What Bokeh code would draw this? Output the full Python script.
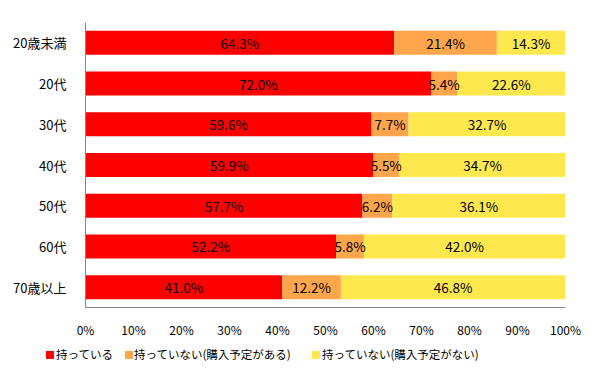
from bokeh.plotting import figure
from bokeh.layouts import column
from bokeh.models import ColumnDataSource, FactorRange, Range1d, PrintfTickFormatter, FixedTicker, Div
from bokeh.core.properties import value
from bokeh.embed import file_html
from bokeh.resources import INLINE

categories = ["20歳未満", "20代", "30代", "40代", "50代", "60代", "70歳以上"]
own = [64.3, 72.0, 59.6, 59.9, 57.7, 52.2, 41.0]
plan = [21.4, 5.4, 7.7, 5.5, 6.2, 5.8, 12.2]
noplan = [14.3, 22.6, 32.7, 34.7, 36.1, 42.0, 46.8]
series_names = ["持っている", "持っていない(購入予定がある)", "持っていない(購入予定がない)"]
colors = ["#FF0000", "#FFA64D", "#FFE84D"]
x_ticks = [0, 10, 20, 30, 40, 50, 60, 70, 80, 90, 100]

FONT = "Noto Sans CJK JP"

src = ColumnDataSource(dict(cat=categories, own=own, plan=plan, noplan=noplan))

p = figure(width=598, height=340, output_backend="svg", toolbar_location=None,
           y_range=FactorRange(factors=categories[::-1]), x_range=Range1d(0, 100),
           min_border_left=85, min_border_right=33, min_border_top=22, min_border_bottom=32)

rs = p.hbar_stack(["own", "plan", "noplan"], y="cat", height=0.59, color=colors,
                  line_color=None, source=src)

# data labels
lx, ly, lt = [], [], []
for i, c in enumerate(categories):
    vals = [own[i], plan[i], noplan[i]]
    start = 0
    for v in vals:
        lx.append(start + v / 2)
        ly.append(c)
        lt.append(f"{v:.1f}%")
        start += v
p.text(x=lx, y=ly, text=lt, text_align="center", text_baseline="middle",
       text_font=value(FONT), text_font_size="13.5px", text_color="#000000")

p.xgrid.visible = False
p.ygrid.visible = False
p.outline_line_color = None

for ax in (p.xaxis[0], p.yaxis[0]):
    ax.axis_line_color = "#868686"
    ax.major_tick_line_color = None
    ax.minor_tick_line_color = None
    ax.major_label_text_font = FONT
    ax.major_label_text_color = "#000000"

p.xaxis[0].major_label_text_font_size = "12px"
p.yaxis[0].major_label_text_font_size = "13px"
p.xaxis[0].ticker = FixedTicker(ticks=x_ticks)
p.xaxis[0].formatter = PrintfTickFormatter(format="%d%%")
p.xaxis[0].major_label_standoff = 7
p.yaxis[0].major_label_standoff = 13

# legend strip (HTML)
sq_left = [46, 125, 312]
tx_left = [56, 134, 322]
parts = []
for name, col, sx, tx in zip(series_names, colors, sq_left, tx_left):
    parts.append(f'<span style="position:absolute;left:{sx}px;top:11px;width:8px;height:8px;background:{col};"></span>')
    parts.append(f'<span style="position:absolute;left:{tx}px;top:6px;line-height:17px;white-space:nowrap;'
                 f'font-family:\'{FONT}\';font-size:11.5px;color:#000;">{name}</span>')
html = '<div style="position:relative;width:598px;height:40px;">' + "".join(parts) + "</div>"
legend_div = Div(text=html, width=598, height=40, margin=0)

layout = column(p, legend_div, spacing=0)
open("out.html", "w").write(file_html(layout, INLINE))
